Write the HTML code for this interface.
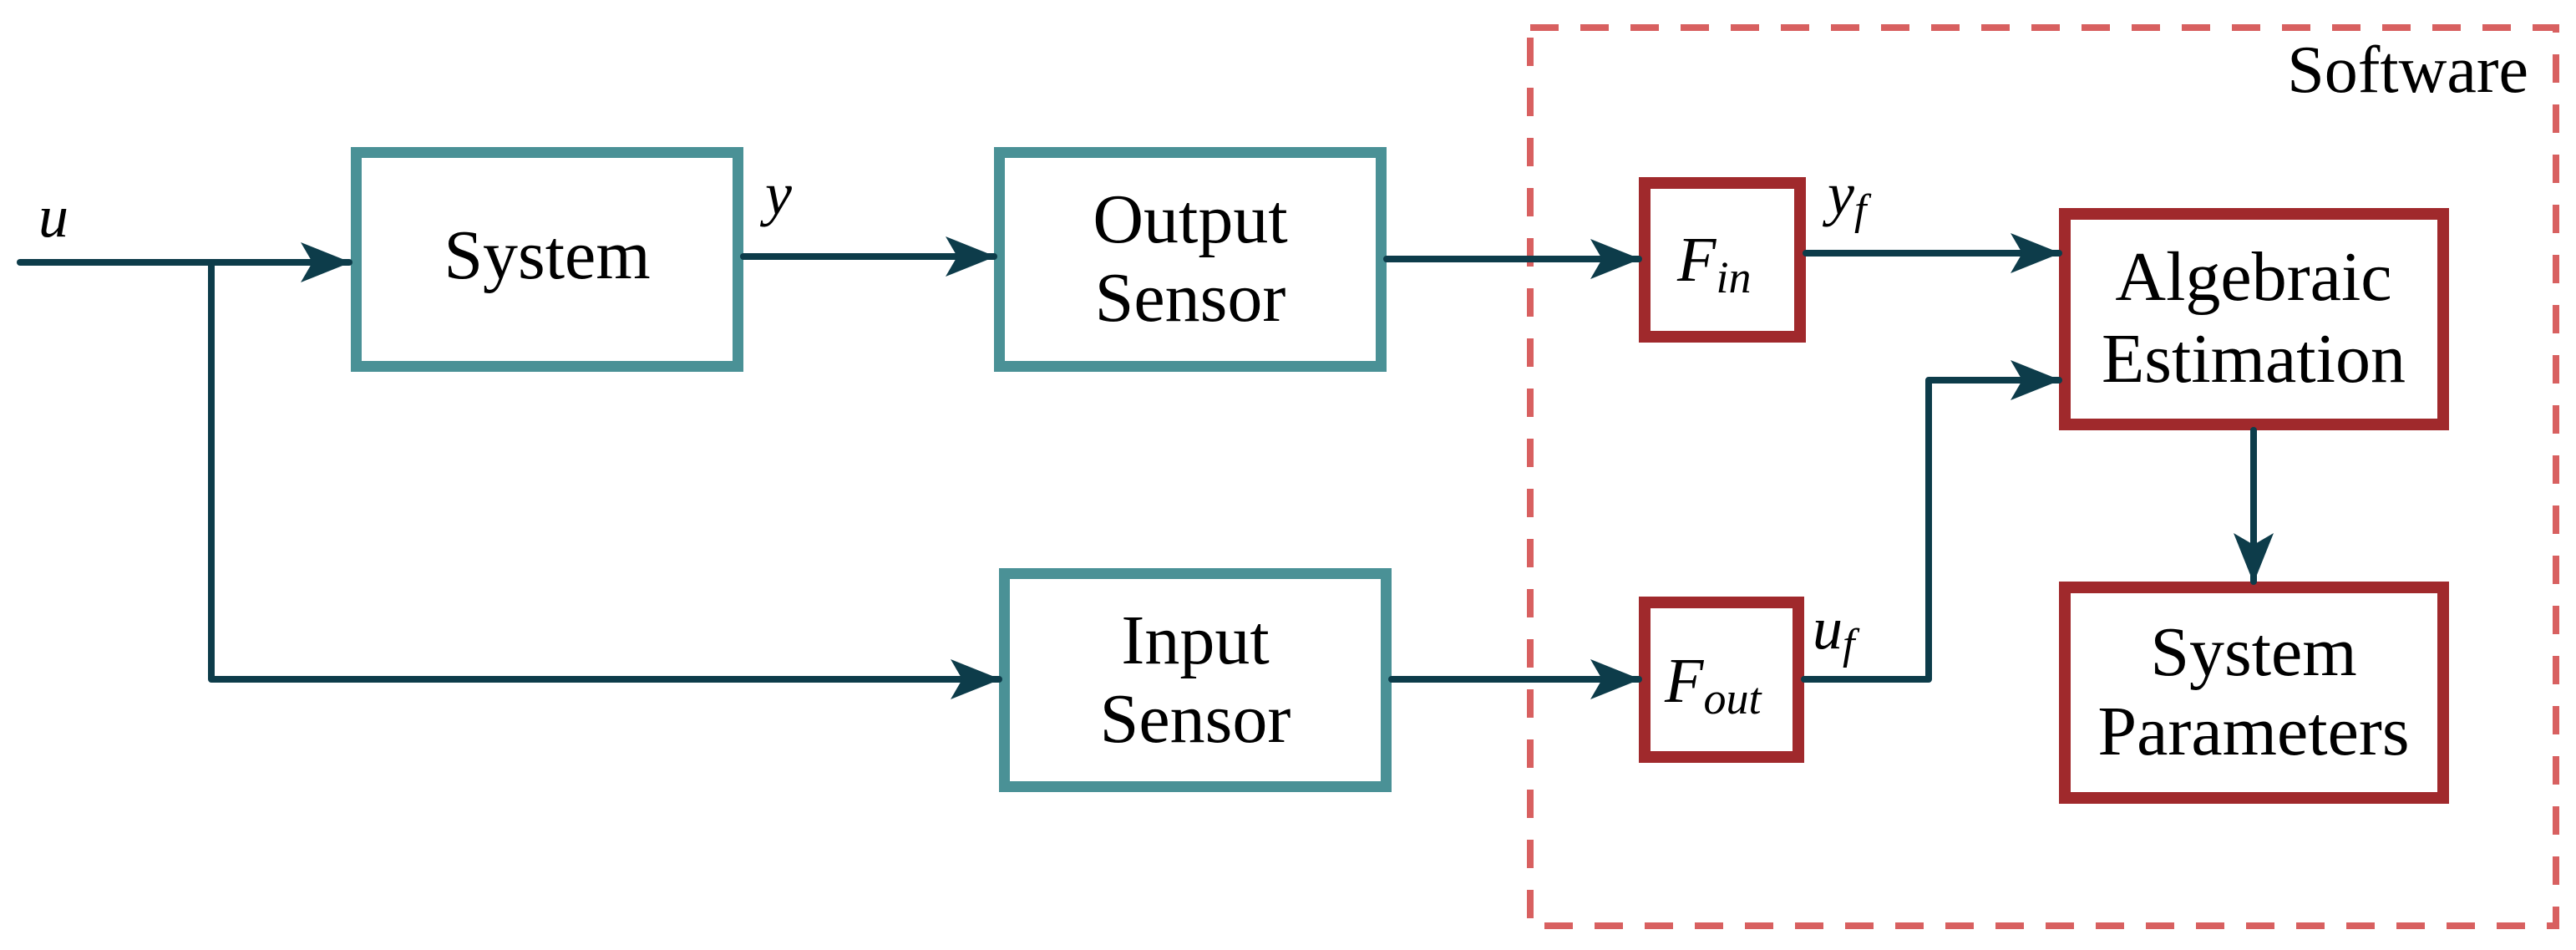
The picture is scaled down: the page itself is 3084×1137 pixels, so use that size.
<!DOCTYPE html>
<html><head><meta charset="utf-8"><style>html,body{margin:0;padding:0;background:#fff}svg{display:block}text{font-family:"Liberation Serif","DejaVu Serif",serif}</style></head>
<body>
<svg width="3084" height="1137" viewBox="0 0 3084 1137" xmlns="http://www.w3.org/2000/svg">
<defs>
<marker id="a" viewBox="0 0 60 48" refX="58" refY="24" markerWidth="60" markerHeight="48" markerUnits="userSpaceOnUse" orient="auto">
<path d="M0,0 L60,24 L0,48 L14,24 Z" fill="#0d3c4a"/>
</marker>
</defs>
<rect x="1832" y="33" width="1228" height="1075" fill="none" stroke="#d86060" stroke-width="8" stroke-dasharray="34,26"/>
<text x="3027" y="110" font-size="80" text-anchor="end">Software</text>
<g fill="none" stroke="#4a9196" stroke-width="13">
<rect x="426.5" y="182.5" width="457" height="256"/>
<rect x="1196.5" y="182.5" width="457" height="256"/>
<rect x="1202.5" y="686.5" width="457" height="255"/>
</g>
<g fill="none" stroke="#a0292c" stroke-width="14">
<rect x="1969" y="219" width="186" height="184"/>
<rect x="1969" y="721" width="184" height="185"/>
<rect x="2472" y="256" width="453" height="252"/>
<rect x="2472" y="703" width="453" height="252"/>
</g>
<g fill="none" stroke="#0d3c4a" stroke-width="8" stroke-linecap="round" stroke-linejoin="round">
<path d="M24,314 L418,314" marker-end="url(#a)"/>
<path d="M253,314 L253,813 L1196,813" marker-end="url(#a)"/>
<path d="M890,307 L1190,307" marker-end="url(#a)"/>
<path d="M1660,310 L1962,310" marker-end="url(#a)"/>
<path d="M1666,813 L1962,813" marker-end="url(#a)"/>
<path d="M2162,303 L2465,303" marker-end="url(#a)"/>
<path d="M2160,813 L2309,813 L2309,455 L2465,455" marker-end="url(#a)"/>
<path d="M2698,515 L2698,696" marker-end="url(#a)"/>
</g>
<g font-size="84" text-anchor="middle" fill="#000">
<text x="655" y="333">System</text>
<text x="1425" y="290">Output</text>
<text x="1425" y="384">Sensor</text>
<text x="1431" y="794">Input</text>
<text x="1431" y="888">Sensor</text>
<text x="2698" y="359">Algebraic</text>
<text x="2698" y="457">Estimation</text>
<text x="2698" y="808">System</text>
<text x="2698" y="903">Parameters</text>
</g>
<g font-style="italic" fill="#000">
<text x="46" y="283" font-size="72">u</text>
<text x="916" y="256" font-size="72">y</text>
<text x="2008" y="336" font-size="76">F<tspan font-size="54" dy="14">in</tspan></text>
<text x="1993" y="840" font-size="76">F<tspan font-size="54" dy="14">out</tspan></text>
<text x="2188" y="256" font-size="72">y<tspan font-size="52" dy="12">f</tspan></text>
<text x="2170" y="776" font-size="72">u<tspan font-size="52" dy="12">f</tspan></text>
</g>
</svg>
</body></html>
